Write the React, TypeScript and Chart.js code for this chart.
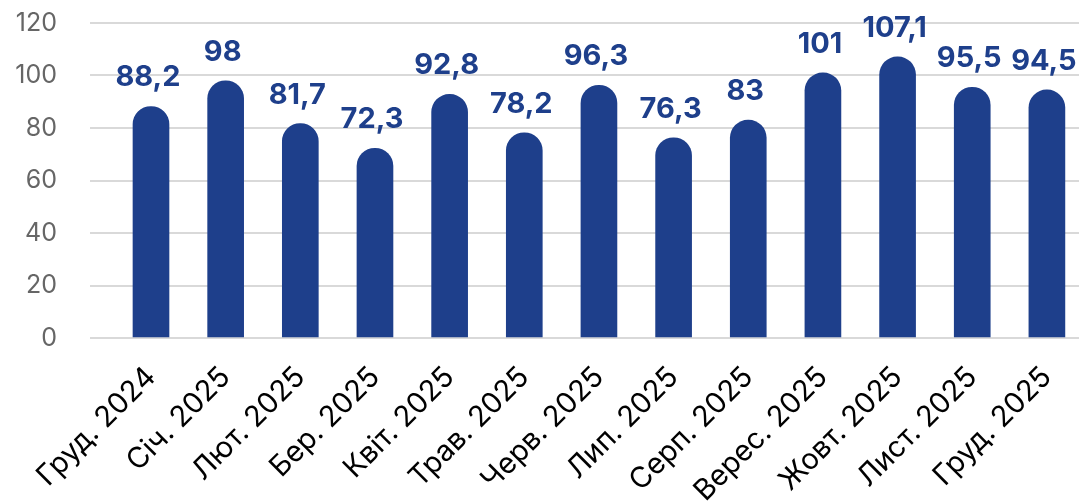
import React, { useEffect, useRef } from "react";
import { Chart, registerables } from "chart.js";

Chart.register(...registerables);

const categories = [
  "Груд. 2024", "Січ. 2025", "Лют. 2025", "Бер. 2025", "Квіт. 2025", "Трав. 2025",
  "Черв. 2025", "Лип. 2025", "Серп. 2025", "Верес. 2025", "Жовт. 2025", "Лист. 2025", "Груд. 2025",
];
const values = [88.2, 98, 81.7, 72.3, 92.8, 78.2, 96.3, 76.3, 83, 101, 107.1, 95.5, 94.5];
const yTicks = [0, 20, 40, 60, 80, 100, 120];

const BAR_COLOR = "#1e3f8b";
const FONT = "Inter, 'Noto Sans', sans-serif";

const fmt = (v: number) => String(v).replace(".", ",");

const labelPlugin = {
  id: "valueLabels",
  afterDatasetsDraw(chart: any) {
    const ctx = chart.ctx;
    const meta = chart.getDatasetMeta(0);
    ctx.save();
    ctx.font = `bold 29px ${FONT}`;
    ctx.fillStyle = BAR_COLOR;
    ctx.textAlign = "center";
    ctx.textBaseline = "alphabetic";
    meta.data.forEach((el: any, i: number) => {
      ctx.fillText(fmt(values[i]), el.x - 3, el.y - 20);
    });
    ctx.restore();
  },
};

export default function App() {
  const ref = useRef<HTMLCanvasElement | null>(null);
  useEffect(() => {
    document.body.style.margin = "0";
    const canvas = ref.current!;
    const chart = new Chart(canvas, {
      type: "bar",
      data: {
        datasets: [
          {
            data: values.map((v, i) => ({ x: i, y: v })),
            backgroundColor: BAR_COLOR,
            borderWidth: 0,
            barThickness: 36,
            borderRadius: { topLeft: 18, topRight: 18, bottomLeft: 0, bottomRight: 0 },
            borderSkipped: "start",
          },
        ],
      },
      options: {
        responsive: false,
        animation: false,
        layout: { padding: { top: 23, right: 0, left: 0, bottom: 0 } },
        plugins: { legend: { display: false }, tooltip: { enabled: false } },
        scales: {
          x: {
            type: "linear",
            offset: false,
            min: -0.817,
            max: 12.43,
            grid: { display: false },
            border: { display: false },
            ticks: {
              stepSize: 1,
              includeBounds: false,
              autoSkip: false,
              maxRotation: 45,
              minRotation: 45,
              padding: 14,
              color: "#000",
              font: { family: FONT, size: 29 },
              callback: (v: any) => (Number.isInteger(v) && categories[v] !== undefined ? categories[v] : ""),
            },
            afterFit: (s: any) => {
              s.height = 166;
              s.paddingLeft = 0;
              s.paddingRight = 0;
            },
          },
          y: {
            min: yTicks[0],
            max: yTicks[yTicks.length - 1],
            grid: { color: "#d9d9d9", lineWidth: 2, drawTicks: false },
            border: { display: false },
            afterBuildTicks: (s: any) => {
              s.ticks = yTicks.map((v) => ({ value: v }));
            },
            ticks: {
              padding: 33,
              color: "#666",
              font: { family: FONT, size: 25 },
            },
            afterFit: (s: any) => {
              s.width = 90;
              s.paddingTop = 0;
              s.paddingBottom = 0;
            },
          },
        },
      },
      plugins: [labelPlugin],
    } as any);
    return () => chart.destroy();
  }, []);
  return (
    <div style={{ width: 1079, height: 504 }}>
      <canvas ref={ref} width={1079} height={504} style={{ display: "block" }} />
    </div>
  );
}
